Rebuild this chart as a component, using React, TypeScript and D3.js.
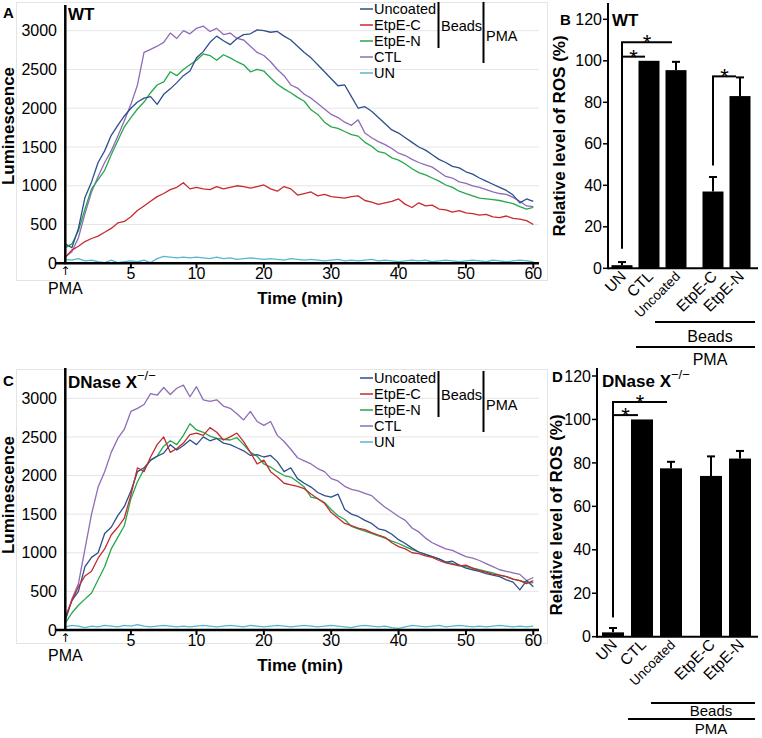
import React from 'react';
import * as d3 from 'd3';

const FONT = 'Liberation Sans, Arial, Helvetica, sans-serif';

// time points (min): every 0.5 min up to 10, then every minute
const TIMES = [
  0, 0.5, 1, 1.5, 2, 2.5, 3, 3.5, 4, 4.5, 5,
  5.5, 6, 6.5, 7, 7.5, 8, 8.5, 9, 9.5, 10,
  11, 12, 13, 14, 15, 16, 17, 18, 19, 20,
  21, 22, 23, 24, 25, 26, 27, 28, 29, 30,
  31, 32, 33, 34, 35, 36, 37, 38, 39, 40,
  41, 42, 43, 44, 45, 46, 47, 48, 49, 50,
  51, 52, 53, 54, 55, 56, 57, 58, 59, 60,
];

const SERIES_NAMES = ['Uncoated', 'EtpE-C', 'EtpE-N', 'CTL', 'UN'];
const SERIES_COLORS = ['#2d4f8b', '#c62a2f', '#25a74c', '#8e6cb6', '#56b6d2'];

// Panel A (WT)
const A_UNCOATED = [
  250, 200, 450, 850, 1050, 1300, 1450, 1650, 1780, 1900, 2000,
  2080, 2130, 2150, 2050, 2180, 2250, 2330, 2420, 2480, 2650,
  2730, 2850, 2930, 2870, 2820, 2900, 2950, 2960, 3010, 3000,
  2980, 2990, 2930, 2880, 2800, 2720, 2650, 2560, 2470, 2380,
  2290, 2300, 2150, 2000, 2020, 1960, 1880, 1800, 1720, 1680,
  1620, 1560, 1500, 1460, 1400, 1340, 1300, 1250, 1230, 1180,
  1150, 1100, 1060, 1020, 980, 940, 880, 780, 830, 800,
];
const A_ETPEC = [
  80, 170, 220, 280, 320, 350, 400, 450, 520, 540, 600,
  680, 740, 800, 860, 900, 950, 980, 1040, 960, 980,
  960, 950, 990, 960, 980, 1000, 990, 970, 990, 1010,
  960, 930, 990, 960, 880, 900, 920, 870, 890, 860,
  850, 840, 860, 870, 810, 790, 760, 780, 800, 830,
  760, 720, 780, 740, 750, 700, 690, 660, 680, 650,
  640, 620, 630, 600, 590, 610, 580, 570, 550, 500,
];
const A_ETPEN = [
  200, 250, 420, 700, 960, 1080, 1200, 1400, 1580, 1760, 1880,
  1990, 2080, 2200, 2300, 2340, 2470, 2420, 2500, 2560, 2620,
  2700, 2680, 2620, 2690, 2650, 2600, 2560, 2470, 2500, 2480,
  2390, 2310, 2250, 2200, 2140, 2090, 1980, 1920, 1820, 1760,
  1740, 1700, 1660, 1640, 1560, 1510, 1440, 1420, 1360, 1330,
  1280, 1220, 1170, 1140, 1100, 1060, 1010, 980, 930, 900,
  870, 840, 830, 820, 810, 790, 770, 730, 700, 720,
];
const A_CTL = [
  80, 150, 330, 640, 920, 1120, 1300, 1450, 1640, 1840, 2050,
  2300, 2720, 2760, 2800, 2850, 2970, 2900, 3000, 2960, 3030,
  3060, 2990, 3030, 2950, 2970, 2900, 2880, 2800, 2720, 2680,
  2600, 2500, 2420, 2300, 2260, 2180, 2130, 2060, 1990, 1920,
  1880, 1820, 1780, 1850, 1680, 1620, 1570, 1530, 1480, 1420,
  1390, 1340, 1300, 1270, 1240, 1180, 1120, 1100, 1050, 1030,
  1000, 980, 950, 920, 900, 890, 850, 800, 740, 730,
];
const A_UN = [
  50, 40, 60, 30, 40, 20, 10, 40, 10, 20, 30,
  20, 40, 10, 60, 90, 80, 70, 80, 70, 80,
  70, 60, 80, 60, 70, 50, 60, 70, 60, 50,
  60, 50, 40, 60, 50, 40, 50, 40, 30, 40,
  50, 30, 40, 30, 40, 50, 30, 40, 30, 20,
  30, 40, 30, 40, 20, 30, 40, 30, 20, 30,
  40, 30, 20, 40, 30, 20, 30, 40, 30, 20,
];

// Panel C (DNase X-/-)
const C_UNCOATED = [
  130, 380, 500, 820, 940, 1000, 1250, 1330, 1480, 1600, 1800,
  2050, 2100, 2200, 2250, 2290, 2400, 2330, 2390, 2460, 2400,
  2500, 2450, 2480, 2420, 2400, 2360, 2320, 2260, 2270, 2240,
  2260, 2180, 2050, 2100, 1960, 1900, 1850, 1780, 1740, 1720,
  1760, 1560, 1500, 1470, 1420, 1380, 1310, 1290, 1240, 1170,
  1120, 1060, 1010, 980, 950, 920, 880, 890, 840, 800,
  780, 760, 730, 710, 690, 650, 620, 520, 640, 560,
];
const C_ETPEC = [
  170, 380, 560, 700, 760, 930, 1050, 1230, 1330, 1450, 1750,
  2100, 2050, 2240, 2400, 2500, 2300, 2350, 2420, 2530, 2550,
  2520, 2620, 2560, 2460, 2500, 2550, 2440, 2300, 2150, 2200,
  2050, 1980, 1900, 1880, 1860, 1830, 1760, 1700, 1640, 1520,
  1450, 1380, 1350, 1320, 1300, 1260, 1230, 1200, 1130, 1080,
  1050, 1000, 990, 960, 940, 900, 870, 850, 830, 840,
  800, 770, 750, 720, 710, 690, 660, 640, 600, 640,
];
const C_ETPEN = [
  90, 220, 320, 400, 480, 650, 820, 1050, 1200, 1350, 1700,
  1920, 2080, 2200, 2250, 2380, 2450, 2400, 2520, 2670, 2590,
  2560, 2510, 2480, 2470, 2460, 2490, 2400, 2300, 2250, 2150,
  2110, 2050, 2000, 1980, 1920, 1850, 1720, 1700, 1650, 1560,
  1480, 1430, 1340, 1310, 1280, 1250, 1220, 1190, 1150, 1120,
  1080, 1040, 1010, 980, 950, 920, 880, 860, 840, 820,
  800, 780, 760, 740, 710, 690, 660, 640, 620, 610,
];
const C_CTL = [
  130, 400, 600, 1050, 1500, 1850, 2050, 2300, 2480, 2600, 2830,
  2870, 2920, 3060, 3040, 3140, 3050, 3130, 3170, 3020, 3150,
  2980, 2960, 2980, 2900, 2870, 2800, 2720, 2830, 2700, 2650,
  2700, 2520, 2440, 2340, 2230, 2190, 2150, 2090, 2050, 1960,
  1930, 1860, 1820, 1800, 1770, 1740, 1660, 1590, 1530, 1470,
  1420, 1320, 1270, 1190, 1130, 1090, 1050, 1030, 990, 950,
  930, 900, 860, 820, 780, 760, 740, 720, 640, 680,
];
const C_UN = [
  40, 60, 50, 30, 50, 40, 60, 50, 40, 60, 50,
  70, 50, 40, 50, 60, 50, 40, 50, 40, 50,
  60, 50, 40, 50, 60, 50, 40, 60, 50, 40,
  50, 60, 50, 40, 50, 60, 50, 40, 50, 60,
  50, 40, 30, 50, 60, 50, 40, 50, 30, 20,
  40, 60, 50, 40, 50, 60, 40, 50, 60, 50,
  40, 50, 40, 50, 60, 50, 40, 50, 40, 50,
];

const LUM_TICKS = [0, 500, 1000, 1500, 2000, 2500, 3000];
const TIME_TICKS = [5, 10, 20, 30, 40, 50, 60];

// Bar panels
const BAR_CATS = ['UN', 'CTL', 'Uncoated', 'EtpE-C', 'EtpE-N'];
const B_MEANS = [1.5, 100, 95.5, 37, 83];
const B_ERRS = [1.5, 0, 4, 7, 9];
const D_MEANS = [2, 100, 77.5, 74, 82];
const D_ERRS = [2, 0, 3, 9, 3.5];
const ROS_TICKS = [0, 20, 40, 60, 80, 100, 120];
const B_SIG = [
  { from: 'UN', to: 'Uncoated', level: 109, base: 9.5 },
  { from: 'UN', to: 'CTL', level: 102, base: 9.5 },
  { from: 'EtpE-C', to: 'EtpE-N', level: 92.5, base: 49.5 },
];
const D_SIG = [
  { from: 'UN', to: 'Uncoated', level: 108, base: 9 },
  { from: 'UN', to: 'CTL', level: 102, base: 9 },
];

type LineCfg = {
  data: number[][];
  yZero: number;
  y3000: number;
  axisTop: number;
  frame: [number, number, number, number];
  letter: string;
  letterY: number;
  titleY: number;
  dnase: boolean;
  legendY: number;
  labelY: number;
};

function LinePanel(c: LineCfg) {
  const x = d3.scaleLinear().domain([0, 10, 60]).range([65.3, 196.5, 533.3]);
  const y = d3.scaleLinear().domain([0, 3000]).range([c.yZero, c.y3000]);
  const line = d3
    .line<number>()
    .x((_, i) => x(TIMES[i]))
    .y((d) => y(d));
  const order = [4, 3, 2, 0, 1];
  const axisX = x(0);
  const rowH = 16;
  const lx = 360;
  return (
    <g fontFamily={FONT}>
      <rect x={c.frame[0]} y={c.frame[1]} width={c.frame[2]} height={c.frame[3]} fill="none" stroke="#e4e4e4" strokeWidth={1} />
      {LUM_TICKS.slice(1).map((t) => (
        <line key={t} x1={axisX} x2={539} y1={y(t)} y2={y(t)} stroke="#e6e6e6" strokeWidth={1} />
      ))}
      {order.map((k) => (
        <path key={k} d={line(c.data[k]) || ''} fill="none" stroke={SERIES_COLORS[k]} strokeWidth={1.3} strokeLinejoin="round" />
      ))}
      {/* axes */}
      <line x1={axisX} x2={axisX} y1={c.axisTop} y2={c.yZero + 1} stroke="#000" strokeWidth={2.5} />
      <line x1={55} x2={539} y1={c.yZero} y2={c.yZero} stroke="#000" strokeWidth={2.5} />
      {LUM_TICKS.map((t) => (
        <text key={t} x={57} y={y(t)} dy="0.35em" textAnchor="end" fontSize={16}>{t}</text>
      ))}
      {TIME_TICKS.map((t) => (
        <g key={t}>
          <line x1={x(t)} x2={x(t)} y1={c.yZero} y2={c.yZero + 5} stroke="#000" strokeWidth={2} />
          <text x={x(t)} y={c.yZero + 16} textAnchor="middle" fontSize={16}>{t}</text>
        </g>
      ))}
      <text x={axisX} y={c.yZero + 12} textAnchor="middle" fontSize={12} fontFamily="DejaVu Sans, sans-serif">↑</text>
      <text x={axisX} y={c.yZero + 31} textAnchor="middle" fontSize={16}>PMA</text>
      <text x={300} y={c.yZero + 41} textAnchor="middle" fontSize={17} fontWeight="bold">Time (min)</text>
      <text transform={`translate(13.5,${c.labelY}) rotate(-90)`} textAnchor="middle" fontSize={17} fontWeight="bold">Luminescence</text>
      <text x={3} y={c.letterY} fontSize={15} fontWeight="bold">{c.letter}</text>
      {c.dnase ? (
        <text x={68} y={c.titleY} fontSize={17} fontWeight="bold">
          DNase X<tspan fontWeight="normal" fontSize={13} dy={-8}>−/−</tspan>
        </text>
      ) : (
        <text x={68} y={c.titleY} fontSize={17} fontWeight="bold">WT</text>
      )}
      {/* legend */}
      {SERIES_NAMES.map((n, i) => (
        <g key={n}>
          <line x1={lx} x2={lx + 13} y1={c.legendY + i * rowH} y2={c.legendY + i * rowH} stroke={SERIES_COLORS[i]} strokeWidth={1.5} />
          <text x={lx + 14} y={c.legendY + i * rowH} dy="0.35em" fontSize={14.5}>{n}</text>
        </g>
      ))}
      <line x1={438.5} x2={438.5} y1={c.legendY - 7} y2={c.legendY + 39} stroke="#000" strokeWidth={2} />
      <text x={441} y={c.legendY + 17} dy="0.35em" fontSize={14.5}>Beads</text>
      <line x1={483.5} x2={483.5} y1={c.legendY - 7} y2={c.legendY + 54} stroke="#000" strokeWidth={2} />
      <text x={486} y={c.legendY + 27} dy="0.35em" fontSize={14.5}>PMA</text>
    </g>
  );
}

type BarCfg = {
  means: number[];
  errs: number[];
  sig: { from: string; to: string; level: number; base: number }[];
  axisX: number;
  yZero: number;
  y120: number;
  axisTop: number;
  c0: number;
  step: number;
  gap: number;
  barW: number;
  letter: string;
  letterX: number;
  letterY: number;
  dnase: boolean;
  titleX: number;
  titleY: number;
  labelX: number;
  labelY: number;
  beadsLine: [number, number, number];
  beadsTextY: number;
  pmaLine: [number, number, number];
  pmaTextY: number;
  textX: number;
  groupFont: number;
};

function BarPanel(c: BarCfg) {
  const y = d3.scaleLinear().domain([0, 120]).range([c.yZero, c.y120]);
  const band = d3
    .scaleBand<string>()
    .domain(BAR_CATS)
    .range([c.c0 - c.step / 2, c.c0 + c.step * 4.5])
    .paddingInner(0);
  const cx = (cat: string) => {
    const i = BAR_CATS.indexOf(cat);
    return (band(cat) as number) + band.bandwidth() / 2 + (i >= 3 ? c.gap : 0);
  };
  return (
    <g fontFamily={FONT}>
      {BAR_CATS.map((cat, i) => {
        const xc = cx(cat);
        const top = y(c.means[i]);
        const et = y(c.means[i] + c.errs[i]);
        return (
          <g key={cat}>
            <rect x={xc - c.barW / 2} y={top} width={c.barW} height={c.yZero - top} fill="#000" />
            {c.errs[i] > 0 && (
              <g stroke="#000" strokeWidth={2}>
                <line x1={xc} x2={xc} y1={top} y2={et} />
                <line x1={xc - 4} x2={xc + 4} y1={et} y2={et} />
              </g>
            )}
            <text
              transform={`translate(${xc + 5},${c.yZero + 9}) rotate(-45)`}
              textAnchor="end"
              fontSize={cat === 'Uncoated' ? 13.5 : 15.5}
            >
              {cat}
            </text>
          </g>
        );
      })}
      {c.sig.map((s, k) => {
        const x1 = cx(s.from);
        const x2 = cx(s.to) - 4;
        const yl = y(s.level);
        return (
          <g key={k}>
            <line x1={x1} x2={x1} y1={y(s.base)} y2={yl} stroke="#000" strokeWidth={2} />
            <line x1={x1 - 1} x2={x2} y1={yl} y2={yl} stroke="#000" strokeWidth={2} />
            <text x={(x1 + x2) / 2} y={yl + 8} textAnchor="middle" fontSize={22}>*</text>
          </g>
        );
      })}
      <line x1={c.axisX} x2={c.axisX} y1={c.axisTop} y2={c.yZero + 1} stroke="#000" strokeWidth={2} />
      <line x1={c.axisX} x2={758} y1={c.yZero} y2={c.yZero} stroke="#000" strokeWidth={2} />
      {ROS_TICKS.map((t) => (
        <g key={t}>
          <line x1={c.axisX - 5} x2={c.axisX} y1={y(t)} y2={y(t)} stroke="#000" strokeWidth={1.5} />
          <text x={c.axisX - 6} y={y(t)} dy="0.35em" textAnchor="end" fontSize={16}>{t}</text>
        </g>
      ))}
      <text transform={`translate(${c.labelX},${c.labelY}) rotate(-90)`} textAnchor="middle" fontSize={17} fontWeight="bold">
        Relative level of ROS (%)
      </text>
      <text x={c.letterX} y={c.letterY} fontSize={15} fontWeight="bold">{c.letter}</text>
      {c.dnase ? (
        <text x={c.titleX} y={c.titleY} fontSize={17} fontWeight="bold">
          DNase X<tspan fontWeight="normal" fontSize={13} dy={-8}>−/−</tspan>
        </text>
      ) : (
        <text x={c.titleX} y={c.titleY} fontSize={17} fontWeight="bold">WT</text>
      )}
      <line x1={c.beadsLine[0]} x2={c.beadsLine[1]} y1={c.beadsLine[2]} y2={c.beadsLine[2]} stroke="#000" strokeWidth={2} />
      <text x={c.textX} y={c.beadsTextY} textAnchor="middle" fontSize={c.groupFont}>Beads</text>
      <line x1={c.pmaLine[0]} x2={c.pmaLine[1]} y1={c.pmaLine[2]} y2={c.pmaLine[2]} stroke="#000" strokeWidth={2} />
      <text x={c.textX} y={c.pmaTextY} textAnchor="middle" fontSize={c.groupFont}>PMA</text>
    </g>
  );
}

export default function App() {
  return (
    <svg
      width={762}
      height={738}
      viewBox="0 0 762 738"
      style={{ position: 'absolute', left: 0, top: 0, background: '#fff' }}
    >
      <rect x={0} y={0} width={762} height={738} fill="#fff" />
      <LinePanel
        data={[A_UNCOATED, A_ETPEC, A_ETPEN, A_CTL, A_UN]}
        yZero={263.3}
        y3000={30.7}
        axisTop={5}
        frame={[16.5, 2.5, 531, 278]}
        letter="A"
        letterY={18}
        titleY={20}
        dnase={false}
        legendY={9}
        labelY={126}
      />
      <LinePanel
        data={[C_UNCOATED, C_ETPEC, C_ETPEN, C_CTL, C_UN]}
        yZero={630}
        y3000={398.3}
        axisTop={368}
        frame={[16.5, 369.5, 531, 274]}
        letter="C"
        letterY={386}
        titleY={388}
        dnase={true}
        legendY={378}
        labelY={495}
      />
      <BarPanel
        means={B_MEANS}
        errs={B_ERRS}
        sig={B_SIG}
        axisX={608}
        yZero={268.3}
        y120={19.3}
        axisTop={3}
        c0={622}
        step={27}
        gap={10}
        barW={21}
        letter="B"
        letterX={560}
        letterY={25}
        dnase={false}
        titleX={612}
        titleY={26}
        labelX={565}
        labelY={136}
        beadsLine={[655, 755, 322]}
        beadsTextY={342}
        pmaLine={[636, 755, 347]}
        pmaTextY={365}
        textX={710}
        groupFont={16}
      />
      <BarPanel
        means={D_MEANS}
        errs={D_ERRS}
        sig={D_SIG}
        axisX={597}
        yZero={636.7}
        y120={376}
        axisTop={368}
        c0={613}
        step={29}
        gap={11}
        barW={22}
        letter="D"
        letterX={552}
        letterY={382}
        dnase={true}
        titleX={602}
        titleY={387}
        labelX={562}
        labelY={515}
        beadsLine={[651, 755, 703]}
        beadsTextY={716}
        pmaLine={[628, 755, 719]}
        pmaTextY={734}
        textX={711}
        groupFont={15}
      />
    </svg>
  );
}
